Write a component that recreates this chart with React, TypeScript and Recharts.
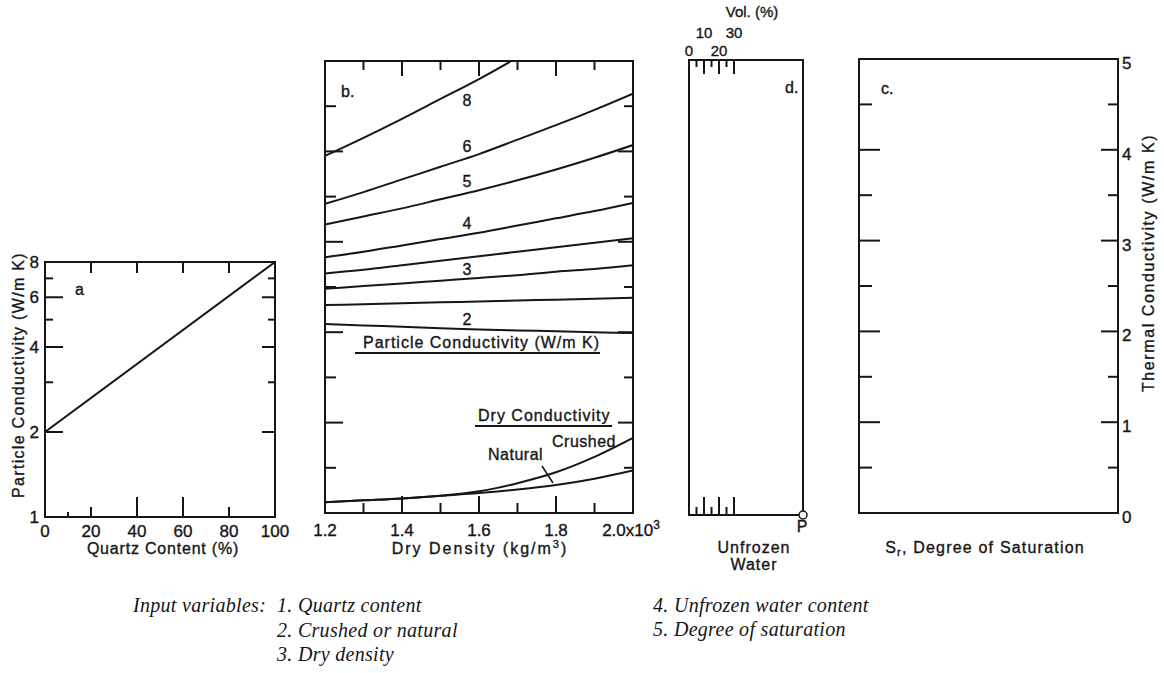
import React from 'react';
import { LineChart, ComposedChart, Line, Scatter, XAxis, YAxis } from 'recharts';

const W = 1164;
const H = 673;
const INK = '#161616';
const SANS = '"Liberation Sans", Arial, sans-serif';
const SERIF = '"Liberation Serif", "Times New Roman", serif';

// plot frames in page pixels
const FRAME_A = { l: 45, r: 275, t: 262, b: 517 };
const FRAME_B = { l: 325, r: 633, t: 61, b: 513 };
const FRAME_D = { l: 689, r: 803, t: 60, b: 515 };
const FRAME_C = { l: 859, r: 1118, t: 59, b: 513 };

// a. particle conductivity against quartz content
const quartzContent = [0, 100];
const particleK = [2, 8];

// b. conductivity against dry density (x10^3 kg/m3)
const dryDensity = [1.2, 1.3, 1.4, 1.5, 1.6, 1.7, 1.8, 1.9, 2.0];
const k8 = [3.95, 4.15, 4.36, 4.58, 4.8, 5.04, 5.3, 5.55, 5.82];
const k6 = [3.42, 3.55, 3.69, 3.83, 3.97, 4.13, 4.29, 4.46, 4.64];
const k5 = [3.19, 3.28, 3.37, 3.47, 3.57, 3.68, 3.8, 3.93, 4.07];
const k4 = [2.83, 2.89, 2.96, 3.03, 3.1, 3.18, 3.26, 3.34, 3.43];
const k35 = [2.65, 2.69, 2.74, 2.79, 2.84, 2.89, 2.94, 2.99, 3.04];
const k3 = [2.48, 2.51, 2.54, 2.57, 2.6, 2.63, 2.67, 2.7, 2.74];
const k25 = [2.3, 2.31, 2.32, 2.33, 2.34, 2.35, 2.36, 2.37, 2.38];
const k2 = [2.09, 2.075, 2.06, 2.045, 2.03, 2.02, 2.01, 2.0, 1.99];
const dryCrushed = [0.12, 0.14, 0.16, 0.19, 0.24, 0.33, 0.45, 0.62, 0.83];
const dryNatural = [0.12, 0.14, 0.16, 0.19, 0.22, 0.26, 0.31, 0.38, 0.47];

const particleCurves = [
  { key: 'k8', tag: '8', values: k8 },
  { key: 'k6', tag: '6', values: k6 },
  { key: 'k5', tag: '5', values: k5 },
  { key: 'k4', tag: '4', values: k4 },
  { key: 'k35', tag: '', values: k35 },
  { key: 'k3', tag: '3', values: k3 },
  { key: 'k25', tag: '', values: k25 },
  { key: 'k2', tag: '2', values: k2 },
];

// d. unfrozen water, vol. %; P sits at the far end of the scale
const volTicks = [0, 5, 10, 15, 20, 25, 30];
const VOL_MAX = 76;
const pointP = [{ vol: VOL_MAX, k: 0 }];

// axis ticks
const quartzTicks = [0, 10, 20, 40, 60, 80, 100];
const particleTicks = [1, 2, 3, 4, 5, 6, 7, 8];
const particleLabels = [1, 2, 4, 6, 8];
const kTicks = [0, 0.5, 1, 1.5, 2, 2.5, 3, 3.5, 4, 4.5, 5];
const saturationTicks = [0, 0.2, 0.4, 0.6, 0.8, 1.0];

const quartzTable = quartzContent.map((q, i) => ({ q, k: particleK[i] }));
const densityTable = dryDensity.map((d, i) => {
  const row: Record<string, number> = { d, crushed: dryCrushed[i], natural: dryNatural[i] };
  particleCurves.forEach((c) => (row[c.key] = c.values[i]));
  return row;
});

// vertical placement of the curve numbers, relative to the point at 1.6
const tagDy: Record<string, number> = { k8: 27, k6: -2, k5: -3, k4: -4, k3: -3, k2: -4 };

const ZERO = { top: 0, right: 0, bottom: 0, left: 0 };
const edge = { stroke: INK, strokeWidth: 2, strokeLinecap: 'square' as const };
const axisBase = {
  type: 'number' as const,
  tickSize: 0,
  tickMargin: 0,
  tickLine: false,
  interval: 0 as const,
  axisLine: edge,
  allowDataOverflow: true,
};

// lettering is a little heavier than the plain face
const ink = { fill: INK, stroke: INK, strokeWidth: 0.35 };

type Side = 'top' | 'bottom' | 'left' | 'right';
type TickCfg = {
  side: Side;
  len: (v: number) => number;
  text?: (v: number) => React.ReactNode;
  off?: number;
  size?: number;
  shift?: (v: number) => number;
};

// inward tick marks drawn from the frame edge, with optional label outside
const frameTick = (c: TickCfg) => (p: any) => {
  const v = Number(p.payload?.value);
  const x = Number(p.x);
  const y = Number(p.y);
  const L = c.len(v);
  const t = c.text ? c.text(v) : null;
  const off = c.off ?? 18;
  const nudge = c.shift ? c.shift(v) : 0;
  let mark = null;
  if (L > 0) {
    const s =
      c.side === 'bottom' ? [x, y, x, y - L]
      : c.side === 'top' ? [x, y, x, y + L]
      : c.side === 'left' ? [x, y, x + L, y]
      : [x, y, x - L, y];
    mark = <line x1={s[0]} y1={s[1]} x2={s[2]} y2={s[3]} stroke={INK} strokeWidth={2} />;
  }
  let label = null;
  if (t !== null && t !== undefined) {
    const font = { ...ink, fontSize: c.size ?? 17, fontFamily: SANS };
    if (c.side === 'bottom') label = <text x={x} y={y + off + nudge} textAnchor="middle" {...font}>{t}</text>;
    else if (c.side === 'top') label = <text x={x} y={y - off + nudge} textAnchor="middle" {...font}>{t}</text>;
    else if (c.side === 'left') label = <text x={x - off} y={y + 6 + nudge} textAnchor="end" {...font}>{t}</text>;
    else label = <text x={x + off} y={y + 6 + nudge} textAnchor="start" {...font}>{t}</text>;
  }
  return <g>{mark}{label}</g>;
};

const noTick = () => 0;
const tenths = (v: number) => Math.round(v * 10);
const isWhole = (v: number) => Math.abs(v - Math.round(v)) < 1e-6;

const curveTag = (text: string, dy: number) => (p: any) => {
  if (!text || p.index !== 4) return null;
  const x = p.x ?? p.viewBox?.x;
  const y = p.y ?? p.viewBox?.y;
  return (
    <text x={x - 12} y={y + dy} textAnchor="middle" fontSize={16} fontFamily={SANS} {...ink}>
      {text}
    </text>
  );
};

const layer: React.CSSProperties = { position: 'absolute', left: 0, top: 0, width: W, height: H };

const PanelA = () => (
  <LineChart width={W} height={H} data={quartzTable} margin={ZERO}>
    <XAxis xAxisId="b" dataKey="q" {...axisBase} domain={[0, 100]} height={H - FRAME_A.b} ticks={quartzTicks}
      tick={frameTick({
        side: 'bottom',
        len: (v) => (v === 10 ? 5 : v === 20 || v === 80 ? 10 : v === 40 || v === 60 ? 20 : 0),
        text: (v) => (v === 10 ? null : String(v)),
        off: 20,
      })} />
    <XAxis xAxisId="t" orientation="top" dataKey="q" {...axisBase} domain={[0, 100]} height={FRAME_A.t} ticks={[20, 40, 60, 80]}
      tick={frameTick({ side: 'top', len: () => 11 })} />
    <YAxis yAxisId="l" {...axisBase} scale="log" domain={[1, 8]} width={FRAME_A.l} ticks={particleTicks}
      tick={frameTick({
        side: 'left',
        len: (v) => (v === 1 || v === 8 ? 0 : v % 2 === 0 ? 18 : 8),
        text: (v) => (particleLabels.includes(v) ? String(v) : null),
        off: 6,
      })} />
    <YAxis yAxisId="r" orientation="right" {...axisBase} scale="log" domain={[1, 8]} width={W - FRAME_A.r} ticks={particleTicks}
      tick={frameTick({ side: 'right', len: (v) => (v === 1 || v === 8 ? 0 : v % 2 === 0 ? 13 : 7) })} />
    <Line xAxisId="b" yAxisId="l" dataKey="k" type="linear" stroke={INK} strokeWidth={2} dot={false} isAnimationActive={false} />
  </LineChart>
);

const PanelB = () => (
  <LineChart width={W} height={H} data={densityTable} margin={ZERO}>
    <XAxis xAxisId="b" dataKey="d" {...axisBase} domain={[1.2, 2.0]} height={H - FRAME_B.b} ticks={dryDensity}
      tick={frameTick({
        side: 'bottom',
        len: (v) => (tenths(v) === 12 || tenths(v) === 20 ? 0 : tenths(v) % 2 === 0 ? 17 : 10),
        text: (v) =>
          tenths(v) === 20 ? (
            <>
              <tspan dx={-2}>2.0x10</tspan>
              <tspan dy={-7} fontSize={12}>3</tspan>
            </>
          ) : tenths(v) % 2 === 0 ? v.toFixed(1) : null,
        off: 23,
      })} />
    <XAxis xAxisId="t" orientation="top" dataKey="d" {...axisBase} domain={[1.2, 2.0]} height={FRAME_B.t} ticks={dryDensity}
      tick={frameTick({ side: 'top', len: (v) => (tenths(v) === 12 || tenths(v) === 20 ? 0 : tenths(v) % 2 === 0 ? 15 : 9) })} />
    <YAxis yAxisId="l" {...axisBase} domain={[0, 5]} width={FRAME_B.l} ticks={kTicks}
      tick={frameTick({ side: 'left', len: (v) => (v === 0 || v === 5 ? 0 : isWhole(v) ? 18 : 11) })} />
    <YAxis yAxisId="r" orientation="right" {...axisBase} domain={[0, 5]} width={W - FRAME_B.r} ticks={kTicks}
      tick={frameTick({ side: 'right', len: (v) => (v === 0 || v === 5 ? 0 : isWhole(v) ? 15 : 9) })} />
    {particleCurves.map((c) => (
      <Line key={c.key} xAxisId="b" yAxisId="l" dataKey={c.key} type="monotone" stroke={INK} strokeWidth={2}
        dot={false} isAnimationActive={false} label={curveTag(c.tag, tagDy[c.key] ?? 0)} />
    ))}
    <Line xAxisId="b" yAxisId="l" dataKey="crushed" type="monotone" stroke={INK} strokeWidth={2} dot={false} isAnimationActive={false} />
    <Line xAxisId="b" yAxisId="l" dataKey="natural" type="monotone" stroke={INK} strokeWidth={2} dot={false} isAnimationActive={false} />
  </LineChart>
);

const openRing = (p: any) => <circle cx={p.cx} cy={p.cy} r={4} fill="#fff" stroke={INK} strokeWidth={1.5} />;

const PanelD = () => (
  <ComposedChart width={W} height={H} data={pointP} margin={ZERO}>
    <XAxis xAxisId="b" dataKey="vol" {...axisBase} allowDataOverflow={false} domain={[0, VOL_MAX]} height={H - FRAME_D.b} ticks={volTicks}
      tick={frameTick({ side: 'bottom', len: (v) => (v === 0 ? 0 : v % 10 === 0 ? 18 : 8) })} />
    <XAxis xAxisId="t" orientation="top" dataKey="vol" {...axisBase} allowDataOverflow={false} domain={[0, VOL_MAX]} height={FRAME_D.t} ticks={volTicks}
      tick={frameTick({
        side: 'top',
        len: (v) => (v === 0 ? 0 : v % 10 === 0 ? 14 : 7),
        text: (v) => (v % 10 === 0 ? String(v) : null),
        off: 4,
        size: 15,
        shift: (v) => ((v / 10) % 2 === 1 ? -18 : 0),
      })} />
    <YAxis yAxisId="l" {...axisBase} allowDataOverflow={false} domain={[0, 5]} width={FRAME_D.l} ticks={kTicks}
      tick={frameTick({ side: 'left', len: noTick })} />
    <YAxis yAxisId="r" orientation="right" {...axisBase} allowDataOverflow={false} domain={[0, 5]} width={W - FRAME_D.r} ticks={kTicks}
      tick={frameTick({ side: 'right', len: noTick })} />
    <Scatter xAxisId="b" yAxisId="l" dataKey="k" shape={openRing} isAnimationActive={false} />
  </ComposedChart>
);

const PanelC = () => (
  <LineChart width={W} height={H} data={[]} margin={ZERO}>
    <XAxis xAxisId="b" {...axisBase} domain={[0, 1]} height={H - FRAME_C.b} ticks={saturationTicks}
      tick={frameTick({
        side: 'bottom',
        len: (v) => (v === 0 || v === 1 ? 0 : 13),
        text: (v) => (v === 0 ? '0' : v.toFixed(1)),
        off: 21,
      })} />
    <XAxis xAxisId="t" orientation="top" {...axisBase} domain={[0, 1]} height={FRAME_C.t} ticks={saturationTicks}
      tick={frameTick({ side: 'top', len: (v) => (v === 0 || v === 1 ? 0 : 14) })} />
    <YAxis yAxisId="l" {...axisBase} domain={[0, 5]} width={FRAME_C.l} ticks={kTicks}
      tick={frameTick({ side: 'left', len: (v) => (v === 0 || v === 5 ? 0 : isWhole(v) ? 21 : 13) })} />
    <YAxis yAxisId="r" orientation="right" {...axisBase} domain={[0, 5]} width={W - FRAME_C.r} ticks={kTicks}
      tick={frameTick({
        side: 'right',
        len: (v) => (v === 0 || v === 5 ? 0 : isWhole(v) ? 17 : 10),
        text: (v) => (isWhole(v) ? String(v) : null),
        off: 4,
        shift: () => 4,
      })} />
  </LineChart>
);

const t16 = { fontFamily: SANS, fontSize: 16, ...ink };
const note = { fontFamily: SERIF, fontSize: 20, fontStyle: 'italic' as const, fill: INK, letterSpacing: 0.3 };

// titles, panel letters and annotations
const Annotations = () => (
  <svg width={W} height={H} style={{ position: 'absolute', left: 0, top: 0 }}>
    {/* a */}
    <text {...t16} letterSpacing={1.3} textAnchor="middle" transform="translate(24 375) rotate(-90)">Particle Conductivity (W/m K)</text>
    <text {...t16} letterSpacing={0.8} textAnchor="middle" x={163} y={554}>Quartz Content (%)</text>
    <text {...t16} x={75} y={295}>a</text>

    {/* b */}
    <text {...t16} x={341} y={97}>b.</text>
    <text {...t16} letterSpacing={1} x={363} y={348}>Particle Conductivity (W/m K)</text>
    <line x1={355} x2={600} y1={353} y2={353} stroke={INK} strokeWidth={2} />
    <text {...t16} letterSpacing={1} x={478} y={421}>Dry Conductivity</text>
    <line x1={475} x2={612} y1={426} y2={426} stroke={INK} strokeWidth={2} />
    <text {...t16} letterSpacing={0.5} x={552} y={447}>Crushed</text>
    <text {...t16} letterSpacing={0.5} x={488} y={460}>Natural</text>
    <line x1={542} y1={466} x2={553} y2={483} stroke={INK} strokeWidth={1.5} />
    <text {...t16} letterSpacing={2} textAnchor="middle" x={480} y={554}>
      Dry Density (kg/m<tspan dy={-6} fontSize={11}>3</tspan><tspan dy={6}>)</tspan>
    </text>

    {/* d */}
    <text {...t16} fontSize={15} textAnchor="middle" x={752} y={17}>Vol. (%)</text>
    <text {...t16} x={785} y={93}>d.</text>
    <text {...t16} textAnchor="middle" x={802} y={532}>P</text>
    <text {...t16} letterSpacing={1} textAnchor="middle" x={754} y={553}>Unfrozen</text>
    <text {...t16} letterSpacing={1} textAnchor="middle" x={754} y={570}>Water</text>

    {/* c */}
    <text {...t16} x={881} y={94}>c.</text>
    <text {...t16} letterSpacing={1.6} textAnchor="middle" transform="translate(1154 263) rotate(-90)">Thermal Conductivity (W/m K)</text>
    <text {...t16} letterSpacing={1.2} textAnchor="middle" x={985} y={553}>
      S<tspan dy={3} fontSize={11}>r</tspan><tspan dy={-3}>, Degree of Saturation</tspan>
    </text>

    {/* input variables */}
    <text {...note} x={133} y={612}>Input variables:</text>
    <text {...note} x={277} y={612}>1. Quartz content</text>
    <text {...note} x={277} y={637}>2. Crushed or natural</text>
    <text {...note} x={277} y={661}>3. Dry density</text>
    <text {...note} x={653} y={612}>4. Unfrozen water content</text>
    <text {...note} x={653} y={636}>5. Degree of saturation</text>
  </svg>
);

export default function App() {
  return (
    <div style={{ position: 'absolute', left: 0, top: 0, width: W, height: H, background: '#fff' }}>
      <div style={layer}><PanelA /></div>
      <div style={layer}><PanelB /></div>
      <div style={layer}><PanelD /></div>
      <div style={layer}><PanelC /></div>
      <Annotations />
    </div>
  );
}
